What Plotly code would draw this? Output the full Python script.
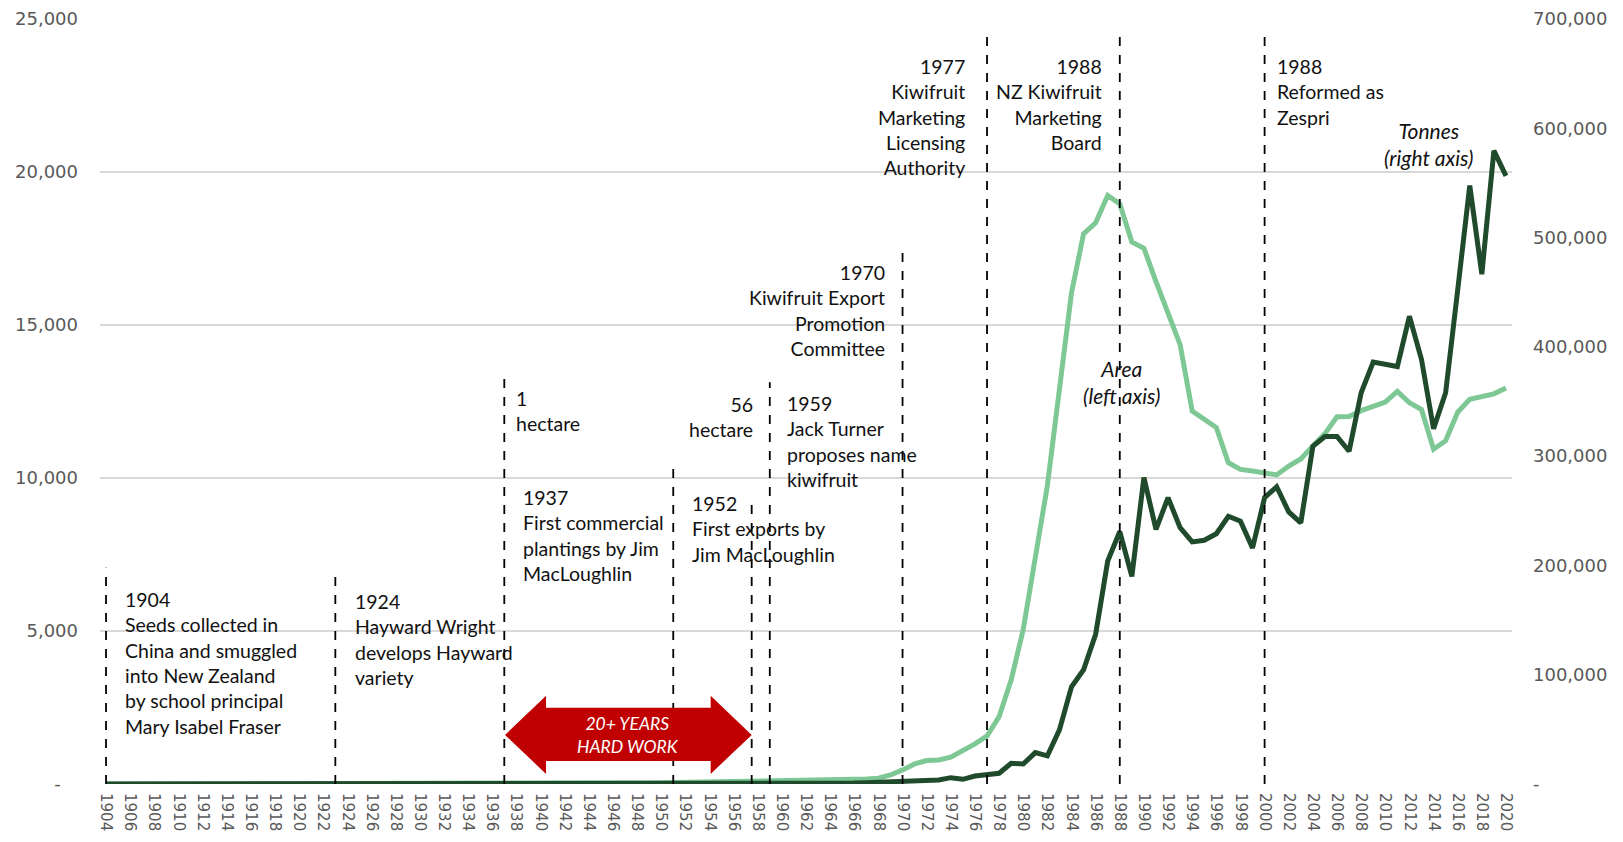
import plotly.graph_objects as go

# Kiwifruit in New Zealand: planted area (ha, left axis) and production (tonnes, right axis)
years = list(range(1904, 2021))

area_ha = [
    0, 0, 0, 0, 0, 0,                                                       # 1904-1909
    0, 0, 0, 0, 0, 0, 0, 0, 0, 0,                                           # 1910s
    0, 0, 0, 0, 0, 0, 0, 0, 0, 0,                                           # 1920s
    0, 0, 0, 0, 0, 0, 0, 1, 2, 3,                                           # 1930s
    5, 6, 8, 10, 12, 15, 18, 22, 27, 33,                                    # 1940s
    40, 48, 56, 60, 64, 68, 72, 76, 80, 85,                                 # 1950s
    90, 95, 100, 105, 115, 125, 140, 160, 190, 295,                         # 1960s
    460, 655, 765, 785, 875, 1090, 1310, 1570, 2200, 3400,                  # 1970s
    5050, 7400, 9750, 12900, 16050, 17980, 18340, 19230, 18960, 17710,      # 1980s
    17510, 16420, 15360, 14360, 12190, 11920, 11650, 10500, 10280, 10230,   # 1990s
    10170, 10100, 10390, 10620, 11050, 11450, 12000, 12010, 12200, 12340,   # 2000s
    12480, 12830, 12460, 12240, 10940, 11220, 12150, 12570, 12680, 12750,   # 2010s
    12940,                                                                  # 2020
]

tonnes = [
    0, 0, 0, 0, 0, 0,
    0, 0, 0, 0, 0, 0, 0, 0, 0, 0,
    0, 0, 0, 0, 0, 0, 0, 0, 0, 0,
    0, 0, 0, 0, 0, 0, 0, 0, 0, 0,
    0, 0, 0, 0, 0, 0, 0, 0, 0, 0,
    0, 0, 20, 30, 40, 60, 80, 100, 130, 160,
    200, 250, 300, 400, 500, 700, 900, 1200, 1600, 2000,
    2300, 2500, 2800, 3700, 5800, 4300, 7300, 8300, 9800, 19000,
    18300, 28700, 25700, 49500, 89000, 104500, 137000, 204000, 231000, 190000,
    280500, 233000, 262000, 234500, 221500, 223000, 229000, 245000, 240500, 216000,
    262000, 272000, 249000, 239000, 309000, 318000, 318000, 304500, 358000, 386000,
    384000, 382000, 428000, 388500, 325000, 358000, 452000, 547500, 466500, 579500,
    556500,
]

left_ticks = [0, 5000, 10000, 15000, 20000, 25000]
left_labels = ["-\u00a0\u00a0\u00a0", "5,000", "10,000", "15,000", "20,000", "25,000"]
right_ticks = [0, 100000, 200000, 300000, 400000, 500000, 600000, 700000]
right_labels = ["-", "100,000", "200,000", "300,000", "400,000", "500,000", "600,000", "700,000"]

# milestone markers: x position (year), top of dashed line (left axis units)
event_x = [1904, 1923, 1937, 1951, 1957.5, 1959, 1970, 1977, 1988, 2000]
event_top = [7070, 6800, 13270, 10350, 9400, 13130, 17640, 24420, 24420, 24420]

# milestone notes: text, x, y(top), anchor
notes = [
    ("1904<br>Seeds collected in<br>China and smuggled<br>into New Zealand<br>by school principal<br>Mary Isabel Fraser", 1905.4, 6480, "left"),
    ("1924<br>Hayward Wright<br>develops Hayward<br>variety", 1924.5, 6390, "left"),
    ("1<br>hectare", 1937.8, 13030, "left"),
    ("1937<br>First commercial<br>plantings by Jim<br>MacLoughlin", 1938.4, 9790, "left"),
    ("56<br>hectare", 1957.8, 12840, "right"),
    ("1952<br>First exports by<br>Jim MacLoughlin", 1952.4, 9600, "left"),
    ("1959<br>Jack Turner<br>proposes name<br>kiwifruit", 1960.3, 12870, "left"),
    ("1970<br>Kiwifruit Export<br>Promotion<br>Committee", 1968.7, 17160, "right"),
    ("1977<br>Kiwifruit<br>Marketing<br>Licensing<br>Authority", 1975.3, 23900, "right"),
    ("1988<br>NZ Kiwifruit<br>Marketing<br>Board", 1986.7, 23900, "right"),
    ("1988<br>Reformed as<br>Zespri", 2000.9, 23900, "left"),
]

LIGHT = "#7dc894"
DARK = "#1f4a2c"
TXT_FONT = "Lato"
TICK_FONT = "DejaVu Sans"

fig = go.Figure()
fig.add_trace(go.Scatter(x=years, y=area_ha, mode="lines", name="Area",
                         line=dict(color=LIGHT, width=5), yaxis="y"))
fig.add_trace(go.Scatter(x=years, y=tonnes, mode="lines", name="Tonnes",
                         line=dict(color=DARK, width=5), yaxis="y2"))

for ex, et in zip(event_x, event_top):
    fig.add_shape(type="line", xref="x", yref="y", x0=ex, x1=ex, y0=0, y1=et,
                  line=dict(color="black", width=1.8, dash="dash"))

# red double arrow "20+ years hard work"
ax0, ax1 = 1937.06, 1957.5
head = 3.4
yc, yh0, yh1, ys0, ys1 = 1605, 330, 2880, 750, 2490
path = (f"M {ax0},{yc} L {ax0+head},{yh1} L {ax0+head},{ys1} L {ax1-head},{ys1} "
        f"L {ax1-head},{yh1} L {ax1},{yc} L {ax1-head},{yh0} L {ax1-head},{ys0} "
        f"L {ax0+head},{ys0} L {ax0+head},{yh0} Z")
fig.add_shape(type="path", xref="x", yref="y", path=path,
              fillcolor="#c00000", line=dict(color="#c00000", width=0))
fig.add_annotation(x=(ax0 + ax1) / 2, y=yc, xref="x", yref="y",
                   text="<i>20+ YEARS<br>HARD WORK</i>", showarrow=False,
                   font=dict(family=TXT_FONT, size=17.5, color="white"))

for text, nx, ny, anchor in notes:
    fig.add_annotation(x=nx, y=ny, xref="x", yref="y", text=text, showarrow=False,
                       xanchor=anchor, yanchor="top", align=anchor,
                       font=dict(family=TXT_FONT, size=19.5, color="#111111"))

fig.add_annotation(x=1988.2, y=14050, xref="x", yref="y", text="<i>Area<br>(left axis)</i>",
                   showarrow=False, xanchor="center", yanchor="top",
                   font=dict(family=TXT_FONT, size=21, color="#111111"))
fig.add_annotation(x=2013.6, y=21840, xref="x", yref="y", text="<i>Tonnes<br>(right axis)</i>",
                   showarrow=False, xanchor="center", yanchor="top",
                   font=dict(family=TXT_FONT, size=21, color="#111111"))

fig.update_layout(
    width=1623, height=842,
    margin=dict(l=92, r=119, t=11, b=66),
    plot_bgcolor="white", paper_bgcolor="white",
    showlegend=False,
    xaxis=dict(range=[1903.5, 2020.5], tickvals=years[::2], ticktext=[str(y) for y in years[::2]],
               tickangle=90, showgrid=False, zeroline=False, showline=False,
               automargin=False, ticklabelstandoff=8,
               tickfont=dict(family=TICK_FONT, size=15, color="#595959")),
    yaxis=dict(range=[0, 25000], tickvals=left_ticks, ticktext=left_labels,
               showgrid=True, gridcolor="#d9d9d9", gridwidth=1.5, zeroline=False,
               ticklabelstandoff=21, automargin=False,
               tickfont=dict(family=TICK_FONT, size=18, color="#595959")),
    yaxis2=dict(range=[0, 700000], tickvals=right_ticks, ticktext=right_labels,
                overlaying="y", side="right", showgrid=False, zeroline=False,
                ticklabelstandoff=20, automargin=False,
                tickfont=dict(family=TICK_FONT, size=18, color="#595959")),
)

fig.write_html("out.html")
